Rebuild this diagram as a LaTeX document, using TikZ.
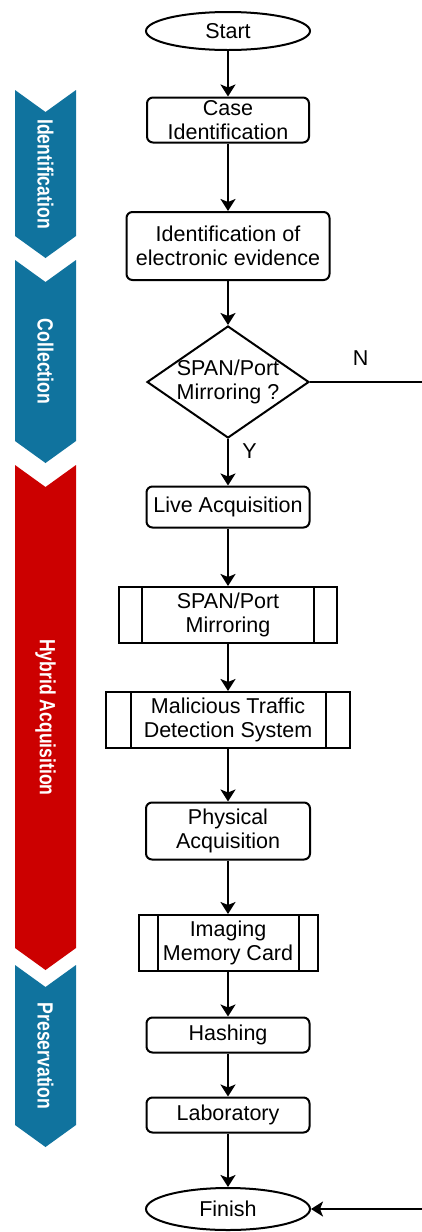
\documentclass[tikz,border=0pt]{standalone}
\usepackage{fontspec}
\setmainfont{Liberation Sans}
\newfontfamily\phasefont[FakeStretch=0.8]{Liberation Sans}
\usepackage{xcolor}
\usetikzlibrary{shapes.geometric, arrows.meta}

\definecolor{phaseblue}{HTML}{10739E}
\definecolor{phasered}{HTML}{CC0000}

\begin{document}
\begin{tikzpicture}[x=1bp, y=-1bp, line width=2bp,
  font=\fontsize{21.5bp}{23.5bp}\selectfont,
  procbox/.style={draw, rounded corners=6bp, align=center, inner sep=0pt},
  subproc/.style={draw, align=center, inner sep=0pt, path picture={
    \draw[line width=2bp] ([xshift=#1]path picture bounding box.north west) -- ([xshift=#1]path picture bounding box.south west)
      ([xshift=-#1]path picture bounding box.north east) -- ([xshift=-#1]path picture bounding box.south east);}},
  subproc/.default=22bp,
  terminal/.style={ellipse, draw, inner sep=0pt, minimum width=164bp},
  decision/.style={diamond, draw, align=center, shape aspect=1.45, inner sep=-6bp, minimum width=162bp, minimum height=112bp},
  phase/.style={text=white, rotate=-90, font=\phasefont\bfseries\fontsize{22bp}{24bp}\selectfont},
  flow/.style={-{Stealth[length=12bp, width=15bp, inset=3bp]}}]
  \useasboundingbox (0,0) rectangle (421,1232);

  % phases on the left
  \foreach \ytop/\ybot/\fillcol/\lab [count=\i] in {90/236/phaseblue/Identification, 260/441/phaseblue/Collection,
      465/948/phasered/Hybrid Acquisition, 965/1125/phaseblue/Preservation} {
    \fill[\fillcol] (15,\ytop) -- (45.5,\ytop+22) -- (76,\ytop) -- (76,\ybot) -- (45.5,\ybot+22) -- (15,\ybot) -- cycle;
    \node[phase] (phase\i) at (45.5,{(\ytop+\ybot+22)/2}) {\lab};
  }

  % flow
  \node[terminal, minimum height=38bp] (start) at (228,31) {Start};
  \node[procbox, minimum width=162bp, minimum height=45bp] (caseid) at (228,120) {Case\\Identification};
  \node[procbox, minimum width=203bp, minimum height=68bp] (evid) at (228,246) {Identification of\\electronic evidence};
  \node[decision] (mirror) at (228,382) {SPAN/Port\\Mirroring ?};
  \node[procbox, minimum width=163bp, minimum height=41bp] (live) at (228,507) {Live Acquisition};
  \node[subproc=23bp, minimum width=218bp, minimum height=56bp] (span) at (228,615) {SPAN/Port\\Mirroring};
  \node[subproc=24bp, minimum width=243bp, minimum height=56bp] (mtds) at (228,720) {Malicious Traffic\\Detection System};
  \node[procbox, minimum width=164bp, minimum height=57bp] (phys) at (228,831) {Physical\\Acquisition};
  \node[subproc=19bp, minimum width=179bp, minimum height=56bp] (imaging) at (228,943) {Imaging\\Memory Card};
  \node[procbox, minimum width=163bp, minimum height=35bp] (hash) at (228,1035) {Hashing};
  \node[procbox, minimum width=163bp, minimum height=35bp] (lab) at (228,1115) {Laboratory};
  \node[terminal, minimum height=42bp] (finish) at (228,1209) {Finish};
  \coordinate (nturn) at (440,382);
  \coordinate (nback) at (440,1209);

  \draw[flow] (start) -- (caseid);
  \draw[flow] (caseid) -- (evid);
  \draw[flow] (evid) -- (mirror);
  \draw[flow] (mirror) -- node[pos=0.25, right=10bp]{Y} (live);
  \draw[flow] (live) -- (span);
  \draw[flow] (span) -- (mtds);
  \draw[flow] (mtds) -- (phys);
  \draw[flow] (phys) -- (imaging);
  \draw[flow] (imaging) -- (hash);
  \draw[flow] (hash) -- (lab);
  \draw[flow] (lab) -- (finish);
  \draw[flow] (mirror.east) -- node[pos=0.39, above=12bp]{N} (nturn) -- (nback) -- (finish.east);
\end{tikzpicture}
\end{document}
